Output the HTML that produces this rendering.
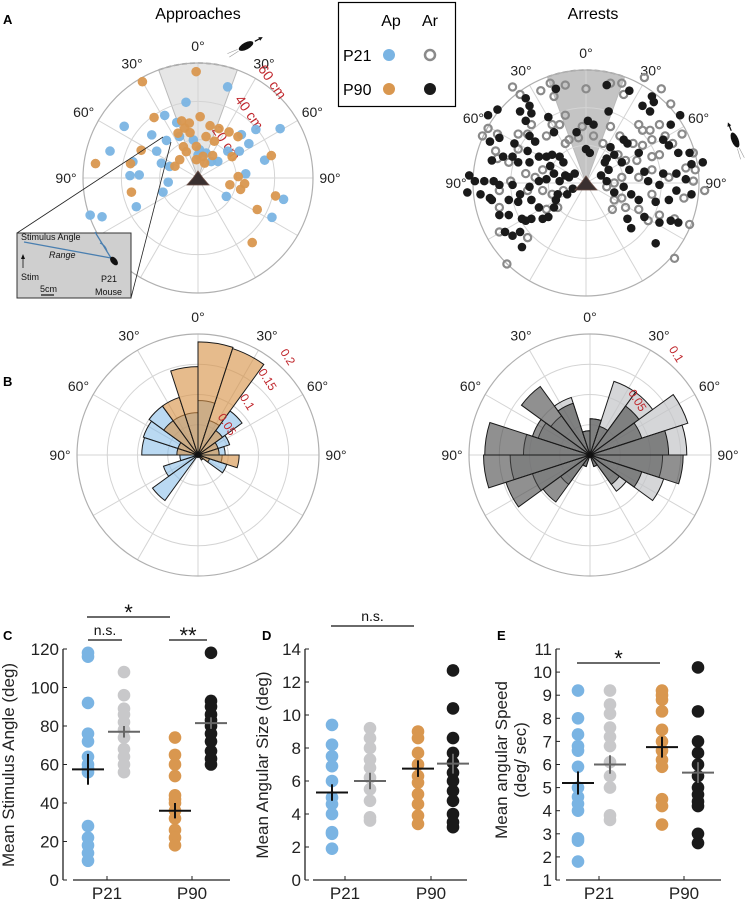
<!DOCTYPE html>
<html><head><meta charset="utf-8"><style>
html,body{margin:0;padding:0;background:#fff}
svg{display:block;font-family:"Liberation Sans",Arial,sans-serif}
</style></head><body>
<svg id="fig" width="748" height="903" viewBox="0 0 748 903" xmlns="http://www.w3.org/2000/svg">
<text x="3" y="24" font-size="13" font-weight="bold">A</text>
<text x="3" y="386" font-size="13" font-weight="bold">B</text>
<text x="3" y="640" font-size="13" font-weight="bold">C</text>
<text x="262" y="640" font-size="13" font-weight="bold">D</text>
<text x="497" y="640" font-size="13" font-weight="bold">E</text>
<text x="198" y="19" font-size="16" text-anchor="middle">Approaches</text>
<text x="593" y="19" font-size="16" text-anchor="middle">Arrests</text>
<g>
<rect x="338.5" y="2.5" width="117" height="104" fill="#fff" stroke="#000" stroke-width="1.2"/>
<text x="391" y="26" font-size="16" text-anchor="middle">Ap</text>
<text x="430" y="26" font-size="16" text-anchor="middle">Ar</text>
<text x="343" y="61" font-size="16">P21</text>
<text x="343" y="95" font-size="16">P90</text>
<circle cx="389" cy="55" r="6" fill="#7ab4e3"/>
<circle cx="430" cy="55" r="5" fill="none" stroke="#8a8a8a" stroke-width="2.5"/>
<circle cx="389" cy="89" r="6" fill="#d9974f"/>
<circle cx="430" cy="89" r="6" fill="#1a1a1a"/>
</g>
</svg>
<script>
// ---------- Panel A data ----------
const apP21Angle=[18,-9,-28,-55,-47,-40,-21,-24,-73,-57,-76,-68,-68,-88,-87,-98,-112,-115,-109,-112,3,0,18,39,50,-7,48,45,56,50,59,75,85,123,104,118,57];
const apP21Range=[50,40,37,47,33,25.6,31,23.7,48,25.7,35,20.6,16,35.5,30.7,15.7,19.7,35.5,59.5,54,14.8,12,13.7,11,13.5,20,20.9,32,32,39.4,50,36,25,17.6,46,43.7,25.7];
const apP90Angle=[-1,-30,2,-36,-16,-9,-15,-10,13,23,11,24,34,44,58,-3,-25,-24,13,33,-45,-63,-64,-78,-82,-102,73,88,102,105,97,103,118,140,-5,24,-24];
const apP90Range=[55.5,58,32,39,31,29,27,24,28,28,22,21,29,30,21,16.5,18,15,11.6,14,13.5,13.5,33,36,54,35.5,40,21,17,23,24.5,41.5,35,44,9.6,8.5,25.6];
// Arrests: lateral (cm, + right) and forward (cm, + toward stimulus)
const arP90Lat=[-47,-52,-32,-30,-35,-29,-32,-51,-46,-38,-27,-31,-39,-50,-44,-36,-30,-25,-21,-18,-14,-12,-19,-17,-11,-9,-6,-21,-14,-25,-30,-35,-39,-46,-49,-54,-62,-59,-63,-56,-51,-41,-36,-29,-25,-20,-23,-29,-34,-41,-32,-43,-39,-35,-34,-16,-10,-15,-7,-17,-46,-50,-16,11,23,1,4,-5,12,0,2,-20,-17,-30,30,35,36,34,50,45,44,41,49,55,62,56,48,53,56,48,44,39,33,31,23,19,15,11,10,12,8,11,15,20,24,28,22,24,39,45,49,37,31,37,41,28,22,20,13];
const arP90Fwd=[39,36,45,41,38,37,33,22,24,21,22,17,14,12,14,11,11,14,14,15,14,11,9,5,4,3,5,2,1,1,-2,-6,-1,-1,1,1,4,1,-5,-6,-8,-9,-10,-9,-13,-18,-19,-19,-19,-17,-20,-26,-28,-26,-34,-9,-6,-6,-3,-13,-17,-9,50,52,49,33,31,27,38,18,16,35,27,25,41,46,43,38,36,31,20,23,16,16,11,10,5,2,-6,-4,-9,-1,1,6,7,11,15,13,11,7,4,1,-5,-2,-6,-9,-19,-24,-21,-20,-21,-32,-18,-10,5,16,21,23,19];
const arP21Lat=[-39,-35,-24,-19,-17,-11,0,13,19,20,31,40,45,28,30,34,39,42,35,25,30,18,13,9,4,-2,-4,-9,-11,-11,-14,-18,-21,-29,-31,-36,-47,-52,-55,-48,-36,-47,-41,-40,-32,-27,-23,-23,-18,-15,-21,-31,-46,-46,-46,-31,-42,-12,17,21,27,35,39,46,51,57,53,58,63,57,52,47,55,39,33,28,21,14,15,19,35,28,19,15,11,44,47,35];
const arP21Fwd=[51,47,49,53,46,52,50,53,53,47,56,50,42,31,28,28,31,25,23,21,20,25,30,21,25,30,24,23,21,36,31,31,25,31,26,26,26,29,25,17,18,13,11,1,5,3,7,-4,-6,-13,-14,-4,-4,-13,-26,-29,-43,-4,15,12,12,14,15,21,26,16,8,7,-4,1,-8,-19,-22,-17,-20,-14,-13,-14,-9,-8,-6,3,3,0,-2,3,-40,7];
// ---------- Panel B data (18-degree bins, clockwise from 0°) ----------
const binWidthDeg=18;
const roseP90Ap=[0.187,0.185,0.05,0.035,0.035,0.068,0.02,0.01,0,0,0,0,0,0,0,0.035,0.035,0.07,0.1,0.146];
const roseP21Ap=[0.09,0.06,0.09,0.055,0.045,0.04,0.05,0.01,0,0,0,0,0.093,0.06,0.03,0.093,0.095,0.1,0.07,0.07];
const roseP21Ar=[0.03,0.064,0.064,0.085,0.08,0.06,0.064,0.037,0.01,0,0,0.01,0.03,0.05,0.066,0.055,0.045,0.04,0.05,0.02];
const roseP90Ar=[0.03,0.025,0.05,0.045,0.065,0.077,0.045,0.03,0.01,0,0,0.01,0.048,0.073,0.088,0.087,0.05,0.07,0.045,0.02];
const roseApTicks=[0.05,0.1,0.15,0.2];
const roseArTicks=[0.05,0.1];
// ---------- Panel C data ----------
const cP21Ap=[118,116,92,76,72,64,60,58,56,28,22,18,14,10];
const cP21Ar=[108,96,89,86,82,78,74,68,64,60,56];
const cP90Ap=[74,65,60,54,44,42,40,36,32,26,22,18];
const cP90Ar=[118,93,90,86,83,80,76,72,67,63,60];
const cMeans=[57.5,77,36,81.5];
const cErr=[8,3,4,3];
const cTicks=[0,20,40,60,80,100,120];
// ---------- Panel D data ----------
const dP21Ap=[9.4,8.2,7.5,6.9,6.0,5.0,4.6,4.0,2.9,2.8,1.9];
const dP21Ar=[9.2,8.6,8.0,7.3,6.8,6.2,5.5,4.8,3.8,3.6];
const dP90Ap=[9.0,8.6,7.7,7.0,6.3,5.9,5.2,4.6,3.9,3.4];
const dP90Ar=[12.7,10.4,8.6,7.7,7.1,6.5,6.0,5.4,4.8,4.0,3.5,3.2];
const dMeans=[5.3,6.0,6.75,7.05];
const dErr=[0.5,0.5,0.5,0.6];
const dTicks=[0,2,4,6,8,10,12,14];
// ---------- Panel E data ----------
const eP21Ap=[9.2,8.0,7.3,6.8,6.6,5.9,5.0,4.6,4.3,4.0,2.8,2.7,1.8];
const eP21Ar=[9.2,8.6,8.2,7.6,7.2,6.8,6.1,5.5,5.0,3.8,3.6];
const eP90Ap=[9.2,9.0,8.8,8.3,7.5,7.0,6.6,6.2,5.9,4.5,4.2,3.4];
const eP90Ar=[10.2,8.3,7.0,6.5,6.0,5.5,5.0,4.7,4.4,4.2,3.0,2.6];
const eMeans=[5.2,6.0,6.75,5.65];
const eErr=[0.5,0.4,0.45,0.45];
const eTicks=[1,2,3,4,5,6,7,8,9,10,11];
const groupLabels=['P21','P90'];

const NS='http://www.w3.org/2000/svg';
const svg=document.getElementById('fig');
function mk(tag,attrs,parent){const e=document.createElementNS(NS,tag);for(const k in attrs)e.setAttribute(k,attrs[k]);(parent||svg).appendChild(e);return e;}
function pol(cx,cy,r,a){const t=a*Math.PI/180;return [cx+r*Math.sin(t),cy-r*Math.cos(t)];}
const BLUE='#7ab4e3',ORANGE='#d9974f',LGRAY='#c8c8ca',BLACK='#1a1a1a',RED='#c0272d';

// ---------- polar grid ----------
function polarGrid(name,cx,cy,rings,R,labels){
  const g=mk('g',{});
  
  
  for(let a=0;a<360;a+=30){const p=pol(cx,cy,R,a);const l=mk('line',{x1:cx,y1:cy,x2:p[0],y2:p[1],stroke:'#d4d4d4','stroke-width':1},g);
    
    }
  rings.forEach(r=>{const c=mk('circle',{cx:cx,cy:cy,r:r,fill:'none',stroke:'#d4d4d4','stroke-width':1},g);
    
    });
  const o=mk('circle',{cx:cx,cy:cy,r:R,fill:'none',stroke:'#b0b0b0','stroke-width':1.2},g);
  
  
  if(labels){
    const L=[[0,'0°'],[-30,'30°'],[30,'30°'],[-60,'60°'],[60,'60°'],[-90,'90°'],[90,'90°']];
    L.forEach(([a,t])=>{const p=pol(cx,cy,R+17,a);const tx=mk('text',{x:p[0],y:p[1]+5,'font-size':14,'text-anchor':'middle',fill:'#222'},g);tx.textContent=t;
      
      });
  }
  return g;
}
function sector(cx,cy,R,half,fill,name){
  const a=pol(cx,cy,R,-half),b=pol(cx,cy,R,half);
  const p=mk('path',{d:`M${cx},${cy}L${a[0]},${a[1]}A${R},${R} 0 0 1 ${b[0]},${b[1]}Z`,fill:fill,stroke:'none'});
  
  
  const arc=mk('path',{d:`M${a[0]},${a[1]}A${R},${R} 0 0 1 ${b[0]},${b[1]}`,fill:'none',stroke:'#999','stroke-width':1.6,'stroke-dasharray':'5,3'});
  
  
  [a,b].forEach(q=>{const l=mk('line',{x1:cx,y1:cy,x2:q[0],y2:q[1],stroke:'#bbb','stroke-width':1});
    
    });
}
function mouseIcon(cx,cy){
  const p=mk('path',{d:`M${cx},${cy-7}L${cx+5},${cy}L${cx+11},${cy+7}L${cx-11},${cy+7}L${cx-5},${cy}Z`,fill:'#3a3030',stroke:'#6b4e45','stroke-width':0.8});
  
  
}
function stimIcon(x,y,rot){
  const g=mk('g',{transform:`translate(${x},${y}) rotate(${rot})`});
  
  
  mk('ellipse',{cx:0,cy:0,rx:3.5,ry:8,fill:'#111'},g);
  mk('line',{x1:0,y1:-10,x2:0,y2:-17,stroke:'#111','stroke-width':1.2},g);
  mk('path',{d:'M-2,-15L0,-19L2,-15Z',fill:'#111'},g);
  mk('line',{x1:-1,y1:9,x2:-2,y2:20,stroke:'#999','stroke-width':0.6},g);
  mk('line',{x1:1,y1:9,x2:2,y2:20,stroke:'#999','stroke-width':0.6},g);
}

// ===== Panel A left =====
const aL={cx:198,cy:178,R:115,ppc:115/60};
sector(aL.cx,aL.cy,aL.R,20,'#e6e6e6','stimulus-sector-approaches');
polarGrid('approaches-polar-grid',aL.cx,aL.cy,[aL.ppc*20,aL.ppc*40],aL.R,true);
[['20 cm',20],['40 cm',40],['60 cm',60]].forEach(([t,v])=>{
  const p=pol(aL.cx,aL.cy,v*aL.ppc+2,37);
  const tx=mk('text',{x:p[0],y:p[1],'font-size':14,fill:RED,'text-anchor':'middle',transform:`rotate(55 ${p[0]} ${p[1]})`});tx.textContent=t;
  
  
});
function scatterPolar(angles,ranges,col,name){
  angles.forEach((a,i)=>{const p=pol(aL.cx,aL.cy,ranges[i]*aL.ppc,a);
    const c=mk('circle',{cx:p[0],cy:p[1],r:4.8,fill:col,'fill-opacity':0.95});
    
    });
}
scatterPolar(apP21Angle,apP21Range,BLUE,'p21-approach-point');
scatterPolar(apP90Angle,apP90Range,ORANGE,'p90-approach-point');
mouseIcon(aL.cx,aL.cy);
stimIcon(246,46,62);

// inset
const ins=mk('g',{});


mk('line',{x1:17,y1:233,x2:163,y2:137,stroke:'#222','stroke-width':0.8},ins);
mk('line',{x1:131,y1:298,x2:171,y2:142,stroke:'#222','stroke-width':0.8},ins);
mk('rect',{x:17,y:233,width:114,height:65,fill:'#cfcfcf',stroke:'#333','stroke-width':1},ins);
mk('line',{x1:24,y1:242,x2:111,y2:258,stroke:'#4a7fb0','stroke-width':1.3},ins);
mk('line',{x1:95,y1:232,x2:111,y2:258,stroke:'#4a7fb0','stroke-width':1.3},ins);
mk('path',{d:'M100,243 A12,12 0 0 1 107,251',fill:'none',stroke:'#4a7fb0','stroke-width':1},ins);
mk('ellipse',{cx:114,cy:261,rx:3,ry:5,fill:'#111',transform:'rotate(-40 114 261)'},ins);
mk('line',{x1:23,y1:268,x2:23,y2:257,stroke:'#111','stroke-width':0.8},ins);
mk('path',{d:'M21,259L23,254L25,259Z',fill:'#111'},ins);
mk('line',{x1:41,y1:295,x2:54,y2:295,stroke:'#111','stroke-width':1.2},ins);
[['Stimulus Angle',21,240,'normal'],['Range',49,258,'italic'],['Stim',21,280,'normal'],['5cm',40,292,'normal'],['P21',101,282,'normal'],['Mouse',95,295,'normal']].forEach(([t,x,y,st])=>{
  const tx=mk('text',{x:x,y:y,'font-size':9,'font-style':st,fill:'#111'},ins);tx.textContent=t;
  
  
});

// ===== Panel A right =====
const aR={cx:586,cy:183,R:113,ppc:113/60};
sector(aR.cx,aR.cy,aR.R,20,'#c4c4c4','stimulus-sector-arrests');
polarGrid('arrests-polar-grid',aR.cx,aR.cy,[aR.ppc*20,aR.ppc*40],aR.R,true);
arP21Lat.forEach((v,i)=>{const c=mk('circle',{cx:aR.cx+v*aR.ppc,cy:aR.cy-arP21Fwd[i]*aR.ppc,r:3.6,fill:'none',stroke:'#8a8a8a','stroke-width':2.2});
  
  });
arP90Lat.forEach((v,i)=>{const c=mk('circle',{cx:aR.cx+v*aR.ppc,cy:aR.cy-arP90Fwd[i]*aR.ppc,r:4.3,fill:BLACK});
  
  });
mouseIcon(aR.cx,aR.cy);
stimIcon(735,140,-22);

// ===== Panel B =====
function rose(cx,cy,R,scale,ticks,series,labelAng,name){
  polarGrid(name+'-grid',cx,cy,[R/4,R/2,3*R/4],R,true);
  series.forEach(([vals,fill,sname])=>{
    vals.forEach((v,k)=>{ if(v<=0)return;
      const r=v*scale,a0=k*binWidthDeg,a1=a0+binWidthDeg;
      const p0=pol(cx,cy,r,a0),p1=pol(cx,cy,r,a1);
      const w=mk('path',{d:`M${cx},${cy}L${p0[0]},${p0[1]}A${r},${r} 0 0 1 ${p1[0]},${p1[1]}Z`,fill:fill,stroke:'#1a1a1a','stroke-width':1});
      
      
    });
  });
  ticks.forEach(t=>{const p=pol(cx,cy,t*scale+8,labelAng);
    const tx=mk('text',{x:p[0],y:p[1],'font-size':12,fill:RED,'text-anchor':'middle',transform:`rotate(58 ${p[0]} ${p[1]})`});tx.textContent=String(t);
    
    });
  const c=mk('circle',{cx:cx,cy:cy,r:3,fill:'#111'});
  
  
}
rose(198,455,121,605,roseApTicks,[[roseP21Ap,'rgba(130,185,232,0.55)','p21-approach-wedge'],[roseP90Ap,'rgba(214,145,70,0.62)','p90-approach-wedge']],42,'approaches-rose');
rose(590,455,121,1210,roseArTicks,[[roseP21Ar,'rgba(195,196,200,0.7)','p21-arrest-wedge'],[roseP90Ar,'rgba(70,70,70,0.6)','p90-arrest-wedge']],40,'arrests-rose');

// ===== Strip plots =====
function strip(cfg){
  const g=mk('g',{});
  
  
  const y=v=>cfg.y0-(v-cfg.vmin)*cfg.ppu;
  const ax=mk('line',{x1:cfg.ax,y1:y(cfg.ticks[cfg.ticks.length-1]),x2:cfg.ax,y2:cfg.y0,stroke:'#222','stroke-width':1.3},g);
  
  
  const xa=mk('line',{x1:cfg.xa0,y1:cfg.y0,x2:cfg.xa1,y2:cfg.y0,stroke:'#222','stroke-width':1.3},g);
  
  
  cfg.ticks.forEach(t=>{
    mk('line',{x1:cfg.ax,y1:y(t),x2:cfg.ax+4,y2:y(t),stroke:'#222','stroke-width':1},g);
    const tx=mk('text',{x:cfg.ax-4,y:y(t)+6,'font-size':17,'text-anchor':'end',fill:'#222'},g);tx.textContent=String(t);
    
    
  });
  cfg.gx.forEach((x,i)=>{
    mk('line',{x1:x,y1:cfg.y0,x2:x,y2:cfg.y0-4,stroke:'#222','stroke-width':1},g);
    const tx=mk('text',{x:x,y:cfg.y0+19,'font-size':17,'text-anchor':'middle',fill:'#222'},g);tx.textContent=groupLabels[i];
    
    
  });
  const cols=[BLUE,LGRAY,ORANGE,BLACK],names=['p21-approach-dot','p21-arrest-dot','p90-approach-dot','p90-arrest-dot'];
  cfg.series.forEach((vals,s)=>{vals.forEach(v=>{
    const c=mk('circle',{cx:cfg.sx[s],cy:y(v),r:6.3,fill:cols[s]},g);
    
    });});
  const mc=['#111','#666','#111','#666'];
  cfg.means.forEach((m,s)=>{
    const x=cfg.sx[s];
    const h=mk('line',{x1:x-16,y1:y(m),x2:x+16,y2:y(m),stroke:mc[s],'stroke-width':2},g);
    
    
    const v=mk('line',{x1:x,y1:y(m-cfg.err[s]),x2:x,y2:y(m+cfg.err[s]),stroke:mc[s],'stroke-width':2},g);
    
    
  });
  cfg.title.forEach(([t,x])=>{
    const tx=mk('text',{x:x,y:cfg.ty,'font-size':17,'text-anchor':'middle',fill:'#222',transform:`rotate(-90 ${x} ${cfg.ty})`},g);tx.textContent=t;
    
    
  });
}
function sig(x1,x2,yy,t,ts){
  const l=mk('line',{x1:x1,y1:yy,x2:x2,y2:yy,stroke:'#111','stroke-width':1.3});
  
  
  const tx=mk('text',{x:(x1+x2)/2,y:yy-(t==='n.s.'?5:-3),'font-size':ts,'text-anchor':'middle',fill:'#111'});tx.textContent=t;
  
  
}
strip({name:'panel-c-stimulus-angle',y0:880,vmin:0,ppu:231/120,ax:63,xa0:73,xa1:230,ticks:cTicks,gx:[107,192],sx:[88,124,175,211],series:[cP21Ap,cP21Ar,cP90Ap,cP90Ar],means:cMeans,err:cErr,title:[['Mean Stimulus Angle (deg)',14]],ty:765});
strip({name:'panel-d-angular-size',y0:880,vmin:0,ppu:231/14,ax:305,xa0:313,xa1:467,ticks:dTicks,gx:[345,431],sx:[332,370,418,453],series:[dP21Ap,dP21Ar,dP90Ap,dP90Ar],means:dMeans,err:dErr,title:[['Mean  Angular Size (deg)',268]],ty:765});
strip({name:'panel-e-angular-speed',y0:880,vmin:1,ppu:231/10,ax:556,xa0:566,xa1:721,ticks:eTicks,gx:[599,684],sx:[578,610,662,698],series:[eP21Ap,eP21Ar,eP90Ap,eP90Ar],means:eMeans,err:eErr,title:[['Mean angular Speed',507],['(deg/ sec)',526]],ty:760});
sig(87,170,617,'*',22);
sig(88,122,640,'n.s.',14);
sig(169,207,640,'**',22);
sig(331,414,626,'n.s.',14);
sig(577,660,663,'*',22);
</script>
</body></html>
